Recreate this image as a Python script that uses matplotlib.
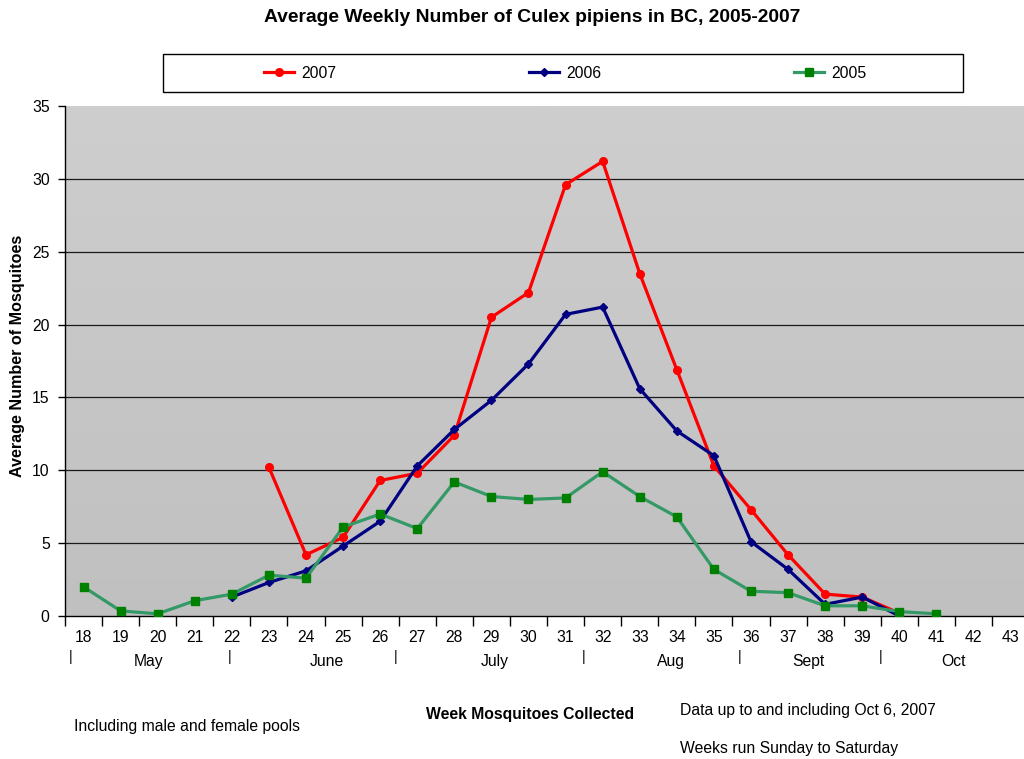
import numpy as np
import matplotlib
matplotlib.use('Agg')
import matplotlib.pyplot as plt
from matplotlib.colors import LinearSegmentedColormap
from matplotlib.lines import Line2D
from matplotlib.patches import Rectangle

plt.rcParams['font.family'] = ['Liberation Sans', 'DejaVu Sans']

weeks = list(range(18, 44))
nan = np.nan

# 2007, 2006, 2005 weekly averages (weeks 18..43)
y2007 = [nan, nan, nan, nan, nan, 10.2, 4.2, 5.4, 9.3, 9.8, 12.4, 20.5, 22.2, 29.6,
         31.2, 23.5, 16.9, 10.3, 7.3, 4.2, 1.5, 1.3, 0.2, nan, nan, nan]
y2006 = [nan, nan, nan, nan, 1.3, 2.3, 3.1, 4.8, 6.5, 10.3, 12.8, 14.8, 17.3, 20.7,
         21.2, 15.6, 12.7, 11.0, 5.1, 3.2, 0.8, 1.3, 0.0, nan, nan, nan]
y2005 = [2.0, 0.35, 0.15, 1.05, 1.5, 2.8, 2.6, 6.1, 7.0, 6.0, 9.2, 8.2, 8.0, 8.1,
         9.9, 8.2, 6.8, 3.2, 1.7, 1.6, 0.7, 0.7, 0.3, 0.15, nan, nan]

months = ['May', 'June', 'July', 'Aug', 'Sept', 'Oct']
month_x = [19.75, 24.55, 29.1, 33.85, 37.55, 41.45]
sep_x = [17.65, 21.94, 26.41, 31.48, 35.69, 39.49]

FS = 11.3
W, H = 1024, 759
fig = plt.figure(figsize=(W / 100, H / 100), dpi=100)
ax = fig.add_axes([65 / W, (H - 616) / H, (26 * 37.08) / W, 510 / H])

# gradient plot area
cmap = LinearSegmentedColormap.from_list('bg', ['#c0c0c0', '#cecece'])
grad = np.linspace(0, 1, 256).reshape(-1, 1)
ax.imshow(grad, extent=[17.5, 43.5, 0, 35], origin='lower', aspect='auto',
          cmap=cmap, zorder=0)

for y in range(5, 35, 5):
    ax.axhline(y, color='#1a1a1a', lw=0.9, zorder=1)

ax.plot(weeks, y2007, color='#ff0000', lw=2.3, marker='o', ms=5.5,
        mfc='#ff0000', mec='#ff0000', label='2007', zorder=3)
ax.plot(weeks, y2006, color='#000080', lw=2.3, marker='D', ms=4,
        mfc='#000080', mec='#000080', label='2006', zorder=4)
ax.plot(weeks, y2005, color='#339966', lw=2.3, marker='s', ms=5.5,
        mfc='#008000', mec='#008000', label='2005', zorder=5)

ax.set_xlim(17.5, 43.5)
ax.set_ylim(0, 35)
ax.set_yticks(range(0, 36, 5))
ax.set_xticks(np.arange(17.5, 44, 1))
ax.set_xticklabels([])
ax.set_xticks(weeks, minor=True)
ax.set_xticklabels([str(w) for w in weeks], minor=True)
ax.tick_params(axis='x', which='major', direction='out', length=7, width=1)
ax.tick_params(axis='x', which='minor', length=0, pad=10, labelsize=FS)
ax.tick_params(axis='y', direction='out', length=5, width=1, pad=6, labelsize=FS)
for s in ['top', 'right']:
    ax.spines[s].set_visible(False)
ax.spines['left'].set_linewidth(1)
ax.spines['bottom'].set_linewidth(1)

tr = ax.get_xaxis_transform()
for m, x in zip(months, month_x):
    ax.text(x, -0.089, m, transform=tr, ha='center', va='center', fontsize=FS)
for x in sep_x:
    ax.text(x, -0.081, '|', transform=tr, ha='center', va='center', fontsize=FS - 1)

fig.text(18 / W, 1 - 356 / H, 'Average Number of Mosquitoes', rotation=90,
         ha='center', va='center', fontsize=11.6, fontweight='bold')

fig.text(532 / W, 1 - 18 / H, 'Average Weekly Number of Culex pipiens in BC, 2005-2007',
         ha='center', va='center', fontsize=13.9, fontweight='bold')

# legend box
fig.patches.append(Rectangle((163 / W, 1 - 92 / H), 800 / W, 38 / H,
                             transform=fig.transFigure, fill=False,
                             edgecolor='black', lw=1))
handles = [
    Line2D([], [], color='#ff0000', lw=2.3, marker='o', ms=5.5),
    Line2D([], [], color='#000080', lw=2.3, marker='D', ms=4),
    Line2D([], [], color='#339966', lw=2.3, marker='s', ms=5.5,
           mfc='#008000', mec='#008000'),
]
fig.legend(handles, ['2007', '2006', '2005'], loc='center',
           bbox_to_anchor=(565 / W, 1 - 73 / H), ncol=3, frameon=False,
           fontsize=FS, handlelength=1.9, handletextpad=0.45,
           columnspacing=12.3)

fig.text(530 / W, 1 - 714 / H, 'Week Mosquitoes Collected', ha='center',
         va='center', fontsize=FS, fontweight='bold')
fig.text(74 / W, 1 - 726 / H, 'Including male and female pools', ha='left',
         va='center', fontsize=FS)
fig.text(680 / W, 1 - 711 / H, 'Data up to and including Oct 6, 2007', ha='left',
         va='center', fontsize=FS)
fig.text(680 / W, 1 - 748 / H, 'Weeks run Sunday to Saturday', ha='left',
         va='center', fontsize=FS)

fig.savefig('out.png', dpi=100)
